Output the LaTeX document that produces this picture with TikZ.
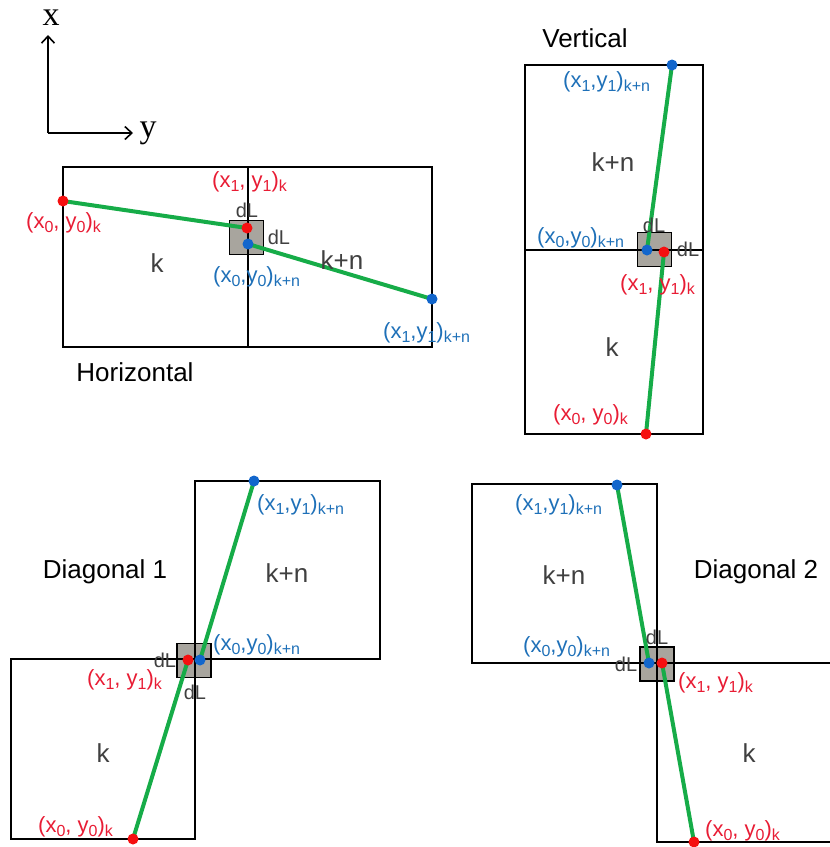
\documentclass[tikz,border=0pt]{standalone}
\usepackage{fontspec}
\setmainfont{Liberation Sans}
\newfontfamily\axisfont{Liberation Serif}
\usepackage{xcolor}
\usetikzlibrary{arrows.meta,positioning}
\definecolor{cellRed}{RGB}{232,28,52}
\definecolor{dotRed}{RGB}{245,16,16}
\definecolor{cellBlue}{RGB}{30,112,184}
\definecolor{dotBlue}{RGB}{18,102,204}
\definecolor{pipeGreen}{RGB}{22,172,72}
\definecolor{dlGray}{RGB}{168,165,158}
\definecolor{cellText}{RGB}{64,64,64}

\newcommand{\lowsub}[1]{\raisebox{-4pt}{\fontsize{16}{16}\selectfont #1}}
\newcommand{\ptk}[1]{(x\lowsub{#1}, y\lowsub{#1})\lowsub{k}}
\newcommand{\ptkn}[1]{(x\lowsub{#1},y\lowsub{#1})\lowsub{k+n}}

\tikzset{
  cell/.style={draw=black, line width=1.4pt},
  dlbox/.style={draw=black, line width=1.6pt, fill=dlGray, minimum size=34pt, inner sep=0pt},
  pipe/.style={draw=pipeGreen, line width=4pt},
  redpt/.style={circle, fill=dotRed, inner sep=0pt, minimum size=11pt},
  bluept/.style={circle, fill=dotBlue, inner sep=0pt, minimum size=11pt},
  redlbl/.style={text=cellRed, font=\fontsize{22}{24}\selectfont, inner sep=0pt, anchor=west},
  bluelbl/.style={text=cellBlue, font=\fontsize{22}{24}\selectfont, inner sep=0pt, anchor=west},
  dltext/.style={text=cellText, font=\fontsize{20}{22}\selectfont, inner sep=0pt},
  cellname/.style={text=cellText, font=\fontsize{26}{28}\selectfont, inner sep=0pt},
  title/.style={text=black, font=\fontsize{26}{28}\selectfont, inner sep=0pt},
}

\begin{document}
\begin{tikzpicture}[x=1pt,y=-1pt]
    \useasboundingbox (0,0) rectangle (830,847);

    % axes
    \coordinate (origin) at (48,133);
    \coordinate (xend) at (48,35);
    \coordinate (yend) at (133,133);
    \draw[line width=1.6pt, -{Straight Barb[length=7pt,width=13pt]}] (origin) -- (xend);
    \draw[line width=1.6pt, -{Straight Barb[length=7pt,width=13pt]}] (origin) -- (yend);
    \node[font=\axisfont\fontsize{34}{36}\selectfont, inner sep=0pt] (xlab) at (51,18) {x};
    \node[font=\axisfont\fontsize{34}{36}\selectfont, inner sep=0pt] (ylab) at (148,133) {y};

    % dL squares
    \node[dlbox] (hsq) at (246.5,237.5) {};
    \node[dlbox] (vsq) at (654.5,249.5) {};
    \node[dlbox] (dasq) at (194,660.5) {};
    \node[dlbox] (dbsq) at (657,664) {};

    % cells
    \draw[cell] (63,167) rectangle (248,347);
    \draw[cell] (248,167) rectangle (432,347);
    \draw[cell] (525,65) rectangle (703,250);
    \draw[cell] (525,250) rectangle (703,434);
    \draw[cell] (195,481) rectangle (380,659);
    \draw[cell] (11,659) rectangle (195,839);
    \draw[cell] (472,484) rectangle (657,663);
    \draw[cell] (830,663) -- (657,663) -- (657,842) -- (830,842);

    % end points
    \coordinate (hk0) at (63,201);
    \coordinate (hk1) at (247,228);
    \coordinate (hn0) at (248,244);
    \coordinate (hn1) at (432,299);
    \coordinate (vk0) at (646,434);
    \coordinate (vk1) at (664,252);
    \coordinate (vn0) at (647,250);
    \coordinate (vn1) at (672,65);
    \coordinate (dak0) at (133,839);
    \coordinate (dak1) at (188,660);
    \coordinate (dan0) at (200,660);
    \coordinate (dan1) at (254,481);
    \coordinate (dbk0) at (694,842);
    \coordinate (dbk1) at (662,663);
    \coordinate (dbn0) at (649,663);
    \coordinate (dbn1) at (617,485);

    % segments
    \draw[pipe] (hk0) -- (hk1);
    \draw[pipe] (hn0) -- (hn1);
    \draw[pipe] (vk0) -- (vk1);
    \draw[pipe] (vn0) -- (vn1);
    \draw[pipe] (dak0) -- (dak1);
    \draw[pipe] (dan0) -- (dan1);
    \draw[pipe] (dbk0) -- (dbk1);
    \draw[pipe] (dbn0) -- (dbn1);

    % dots
    \foreach \p in {hk0,hk1,vk0,vk1,dak0,dak1,dbk0,dbk1}
        \node[redpt] (\p dot) at (\p) {};
    \foreach \p in {hn0,hn1,vn0,vn1,dan0,dan1,dbn0,dbn1}
        \node[bluept] (\p dot) at (\p) {};

    % horizontal
    \node[title] (htitle) at (135,372) {Horizontal};
    \node[redlbl] (hk1lab) at (212,182) {\ptk{1}};
    \node[redlbl] (hk0lab) at (26,223) {\ptk{0}};
    \node[bluelbl] (hn0lab) at (213,277) {\ptkn{0}};
    \node[bluelbl] (hn1lab) at (383,333) {\ptkn{1}};
    \node[dltext] (hdla) at (247,210) {dL};
    \node[dltext] (hdlb) at (279,237) {dL};
    \node[cellname] (hk) at (157,263) {k};
    \node[cellname] (hn) at (342,260) {k+n};

    % vertical
    \node[title] (vtitle) at (585,38) {Vertical};
    \node[bluelbl] (vn1lab) at (563,82) {\ptkn{1}};
    \node[bluelbl] (vn0lab) at (537,238) {\ptkn{0}};
    \node[redlbl] (vk1lab) at (620,285) {\ptk{1}};
    \node[redlbl] (vk0lab) at (553,415) {\ptk{0}};
    \node[dltext] (vdla) at (654,225) {dL};
    \node[dltext] (vdlb) at (688,249) {dL};
    \node[cellname] (vn) at (613,162) {k+n};
    \node[cellname] (vk) at (612,347) {k};

    % diagonal 1
    \node[title] (datitle) at (105,572) {Diagonal 1};
    \node[bluelbl] (dan1lab) at (257,505) {\ptkn{1}};
    \node[bluelbl] (dan0lab) at (213,645) {\ptkn{0}};
    \node[redlbl] (dak1lab) at (87,680) {\ptk{1}};
    \node[redlbl] (dak0lab) at (38,827) {\ptk{0}};
    \node[dltext] (dadla) at (165,660) {dL};
    \node[dltext] (dadlb) at (195,692) {dL};
    \node[cellname] (dan) at (287,573) {k+n};
    \node[cellname] (dak) at (103,753) {k};

    % diagonal 2
    \node[title] (dbtitle) at (756,572) {Diagonal 2};
    \node[bluelbl] (dbn1lab) at (515,505) {\ptkn{1}};
    \node[bluelbl] (dbn0lab) at (523,647) {\ptkn{0}};
    \node[redlbl] (dbk1lab) at (678,683) {\ptk{1}};
    \node[redlbl] (dbk0lab) at (705,831) {\ptk{0}};
    \node[dltext] (dbdla) at (657,637) {dL};
    \node[dltext] (dbdlb) at (626,664) {dL};
    \node[cellname] (dbn) at (564,575) {k+n};
    \node[cellname] (dbk) at (749,753) {k};
\end{tikzpicture}
\end{document}
